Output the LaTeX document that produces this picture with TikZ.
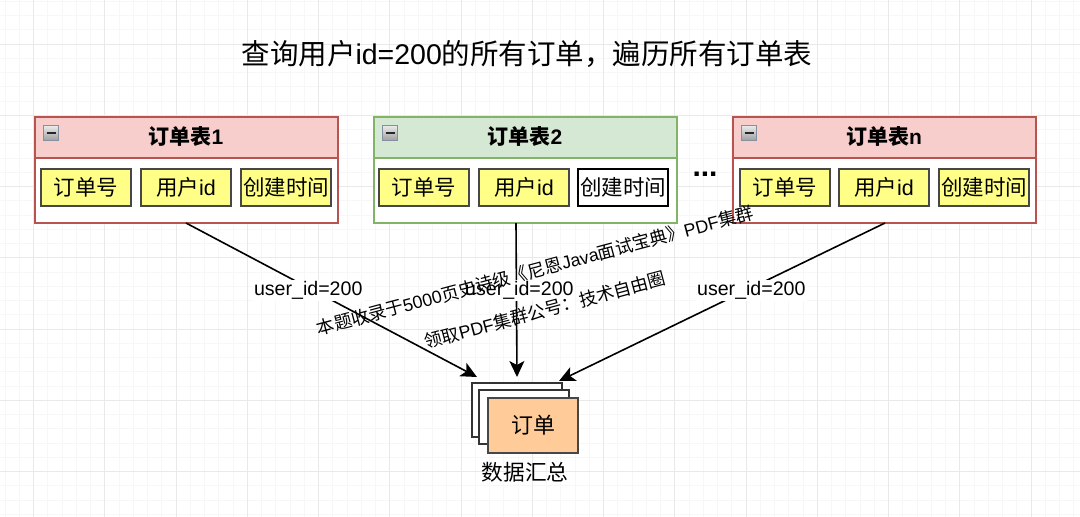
\documentclass[tikz,border=0pt]{standalone}
\usepackage{fontspec}
\setmainfont{Liberation Sans}
\newfontfamily\cjk{Noto Sans CJK SC}
\usetikzlibrary{arrows.meta}
\definecolor{redfill}{HTML}{F8CECC}
\definecolor{rededge}{HTML}{B85450}
\definecolor{greenfill}{HTML}{D5E8D4}
\definecolor{greenedge}{HTML}{82B366}
\definecolor{fieldfill}{HTML}{FFFF88}
\definecolor{orderfill}{HTML}{FFCC99}
\definecolor{gridminor}{HTML}{F7F7F7}
\definecolor{gridmajor}{HTML}{E9E9E9}
\definecolor{toggleedge}{HTML}{8490A0}
\newcommand{\sized}[1]{\fontsize{#1}{#1}\selectfont}
\newcommand{\zh}[1]{{\cjk #1}}

\begin{document}
\begin{tikzpicture}[
  x=1pt,
  y=-1pt,
  line join=miter,
  headbox/.style={draw=#1,line width=2pt,minimum width=303pt,minimum height=41pt,inner sep=0pt,font=\sized{21}\bfseries},
  bodybox/.style={draw=#1,line width=2pt,fill=white,minimum width=303pt,minimum height=66pt,inner sep=0pt},
  fieldbox/.style={draw=black!72,line width=1.6pt,fill=fieldfill,minimum width=90pt,minimum height=36.5pt,inner sep=0pt,font=\sized{21.5}},
  plainfield/.style={fieldbox,draw=black,fill=white},
  togglebox/.style={draw=toggleedge,line width=1.2pt,top color=black!8,bottom color=black!38,minimum size=15pt,inner sep=0pt},
  sheetbox/.style={draw=black!80,line width=1.8pt,fill=white,minimum width=90pt,minimum height=54pt,inner sep=0pt},
  link/.style={line width=1.6pt,-{Stealth[length=16pt,width=15pt,inset=4pt]}},
  idlabel/.style={fill=white,inner sep=1.5pt,font=\sized{19.6}},
  stamp/.style={rotate=15,inner sep=0pt,font=\sized{17.8}}
]
  \useasboundingbox (0,0) rectangle (1080,517);
  \fill[white] (0,0) rectangle (1080,517);

  % Background grid, light lines first.
  \foreach \i in {0,...,75} {
    \draw[gridminor,line width=0.8pt] ({5+14.25*\i},0) -- ({5+14.25*\i},517);
  }
  \foreach \i in {0,...,36} {
    \draw[gridminor,line width=0.8pt] (0,{1.25+14.25*\i}) -- (1080,{1.25+14.25*\i});
  }
  \foreach \i in {0,...,14} {
    \draw[gridmajor,line width=0.8pt] ({33.5+71.25*\i},0) -- ({33.5+71.25*\i},517);
  }
  \foreach \i in {0,...,6} {
    \draw[gridmajor,line width=0.8pt] (0,{44+71.25*\i}) -- (1080,{44+71.25*\i});
  }

  \node[font=\sized{28.5}] (title) at (527,54) {\zh{查询用户}id=200\zh{的所有订单，遍历所有订单表}};

  % First table.
  \node[bodybox=rededge] (bodyA) at (186,190) {};
  \node[headbox=rededge,fill=redfill] (headA) at (186,137) {\zh{订单表}1};
  \node[togglebox] (toggleA) at (51,133) {};
  \node[fieldbox] (orderA) at (86,187.5) {\zh{订单号}};
  \node[fieldbox] (userA) at (186,187.5) {\zh{用户}id};
  \node[fieldbox] (timeA) at (286,187.5) {\zh{创建时间}};

  % Second table.
  \node[bodybox=greenedge] (bodyB) at (525,190) {};
  \node[headbox=greenedge,fill=greenfill] (headB) at (525,137) {\zh{订单表}2};
  \node[togglebox] (toggleB) at (390,133) {};
  \node[fieldbox] (orderB) at (424,187.5) {\zh{订单号}};
  \node[fieldbox] (userB) at (524,187.5) {\zh{用户}id};
  \node[plainfield] (timeB) at (623,187.5) {\zh{创建时间}};

  % Last table.
  \node[bodybox=rededge] (bodyC) at (884,190) {};
  \node[headbox=rededge,fill=redfill] (headC) at (884,137) {\zh{订单表}n};
  \node[togglebox] (toggleC) at (749,133) {};
  \node[fieldbox] (orderC) at (785,187.5) {\zh{订单号}};
  \node[fieldbox] (userC) at (884,187.5) {\zh{用户}id};
  \node[fieldbox] (timeC) at (984,187.5) {\zh{创建时间}};

  % Minus sign on each toggle.
  \foreach \t in {toggleA,toggleB,toggleC} {
    \draw[black!85,line width=1.8pt] ([xshift=-4.5pt]\t.center) -- ([xshift=4.5pt]\t.center);
  }

  \node[font=\sized{30}\bfseries] (dots) at (705,174) {...};

  % Stacked result sheets.
  \node[sheetbox] (sheetA) at (517,410) {};
  \node[sheetbox,minimum height=54pt] (sheetB) at (524,417) {};
  \node[sheetbox,draw=black!72,line width=2pt,fill=orderfill,minimum height=55pt] (order) at (533,425) {\sized{22}\zh{订单}};
  \node[font=\sized{21.7}] (summary) at (525,472) {\zh{数据汇总}};

  \coordinate (endA) at (477,377);
  \coordinate (endB) at (517,377);
  \coordinate (endC) at (559,381);
  \coordinate (startA) at (186,223);
  \coordinate (startB) at (516,223);
  \coordinate (startC) at (885,223);

  \draw[link] (startA) -- (endA) node[idlabel,pos=0.42,yshift=-2.5pt] (idA) {user\_id=200};
  \draw[link] (startB) -- (endB) node[idlabel,pos=0.42,yshift=-2.5pt,xshift=3pt] (idB) {user\_id=200};
  \draw[link] (startC) -- (endC) node[idlabel,pos=0.41,yshift=-3pt] (idC) {user\_id=200};

  % Notice set across the picture.
  \node[stamp] (noteA) at (535,270.5) {\zh{本题收录于}5000\zh{页史诗级《尼恩}Java\zh{面试宝典》}PDF\zh{集群}};
  \node[stamp] (noteB) at (545,310) {\zh{领取}PDF\zh{集群公号：技术自由圈}};
\end{tikzpicture}
\end{document}
